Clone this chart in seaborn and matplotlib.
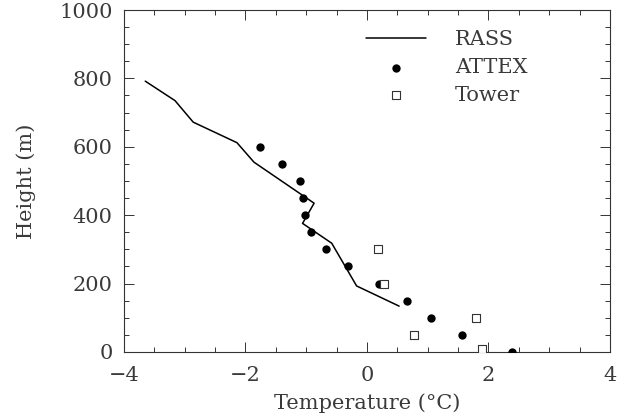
import matplotlib
matplotlib.use("Agg")
import matplotlib.pyplot as plt
from matplotlib.ticker import MultipleLocator
import seaborn as sns
import pandas as pd

# RASS temperature profile (continuous line)
rass_temp = [-3.65, -3.16, -2.86, -2.14, -1.86, -0.87, -1.06, -0.58, -0.17, 0.53]
rass_height = [792, 735, 672, 612, 555, 435, 376, 318, 193, 134]

# ATTEX radiometer retrievals
attex_temp = [-1.76, -1.40, -1.10, -1.05, -1.02, -0.92, -0.67, -0.32, 0.20, 0.66, 1.05, 1.56, 2.38]
attex_height = [600, 550, 500, 450, 400, 350, 300, 250, 200, 150, 100, 50, 0]

# Tower sensors
tower_temp = [0.19, 0.28, 1.79, 0.78, 1.89]
tower_height = [300, 200, 100, 50, 10]

sns.set_theme(style="ticks")
plt.rcParams["font.family"] = ["DejaVu Serif", "DejaVu Sans"]
text_color = "#3a3a3a"

rass = pd.DataFrame({"T": rass_temp, "H": rass_height})
attex = pd.DataFrame({"T": attex_temp, "H": attex_height})
tower = pd.DataFrame({"T": tower_temp, "H": tower_height})

fig = plt.figure(figsize=(6.23, 4.17), dpi=100)
ax = fig.add_axes([0.199, 0.156, 0.780, 0.820])

sns.lineplot(data=rass, x="T", y="H", sort=False, estimator=None, color="black",
             linewidth=1.1, ax=ax, label="RASS")
sns.scatterplot(data=attex, x="T", y="H", marker="o", s=36, color="black",
                edgecolor="black", linewidth=0, ax=ax, label="ATTEX", zorder=3)
sns.scatterplot(data=tower, x="T", y="H", marker="s", s=36, facecolor="white",
                edgecolor="#333333", linewidth=0.8, ax=ax, label="Tower", zorder=3)

ax.set_xlim(-4, 4)
ax.set_ylim(0, 1000)
ax.xaxis.set_major_locator(MultipleLocator(2))
ax.xaxis.set_minor_locator(MultipleLocator(0.5))
ax.yaxis.set_major_locator(MultipleLocator(200))
ax.yaxis.set_minor_locator(MultipleLocator(50))

for s in ax.spines.values():
    s.set_linewidth(0.8)
    s.set_color("#333333")

ax.tick_params(which="both", direction="in", top=True, right=True, color="#333333",
               width=0.7, labelcolor=text_color, labelsize=15)
ax.tick_params(which="major", length=7)
ax.tick_params(which="minor", length=3.5)
ax.tick_params(axis="x", which="major", pad=10)
ax.tick_params(axis="y", which="major", pad=8)

ax.set_xlabel("Temperature (°C)", fontsize=15, color=text_color, labelpad=6)
ax.set_ylabel("Height (m)", fontsize=15, color=text_color, labelpad=17)

leg = ax.legend(loc="upper left", bbox_to_anchor=(0.48, 0.965), frameon=False,
                fontsize=15, handlelength=2.9, handletextpad=1.4, labelspacing=0.42,
                borderaxespad=0)
for t in leg.get_texts():
    t.set_color(text_color)

fig.savefig("out.png", dpi=100, facecolor="white")
